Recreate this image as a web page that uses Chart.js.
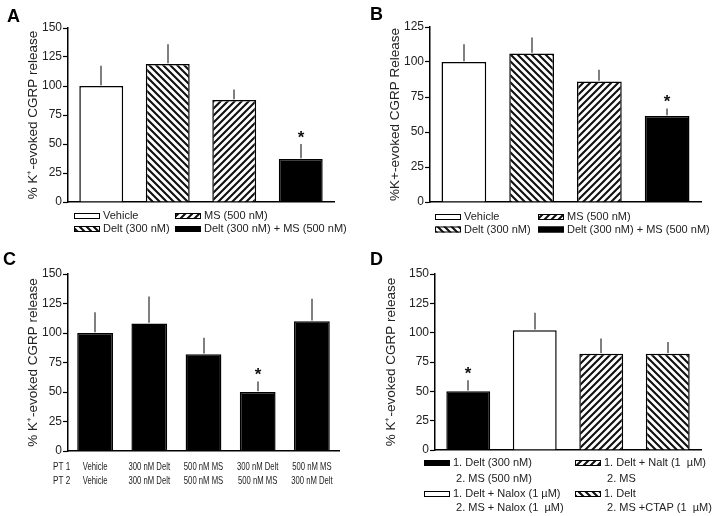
<!DOCTYPE html>
<html><head><meta charset="utf-8">
<script src="https://cdn.jsdelivr.net/npm/chart.js@4/dist/chart.umd.min.js"></script>
<style>
html,body{margin:0;padding:0;background:#fff;}
#wrap{position:relative;width:717px;height:516px;overflow:hidden;background:#fff;}
canvas{position:absolute;}
</style></head><body>
<div id="wrap">
<canvas id="cA" width="358" height="250" style="left:0;top:0"></canvas>
<canvas id="cB" width="359" height="250" style="left:358px;top:0"></canvas>
<canvas id="cC" width="358" height="266" style="left:0;top:250px"></canvas>
<canvas id="cD" width="359" height="266" style="left:358px;top:250px"></canvas>
</div>
<script>
// ---------- DATA ----------
const aCategories = ['Vehicle', 'Delt (300 nM)', 'MS (500 nM)', 'Delt (300 nM) + MS (500 nM)'];
const aValues = [100, 119, 88, 37];
const aErrors = [17.5, 17, 9, 13];
const aSignificant = [false, false, false, true];
const aTicks = [0, 25, 50, 75, 100, 125, 150];

const bCategories = ['Vehicle', 'Delt (300 nM)', 'MS (500 nM)', 'Delt (300 nM) + MS (500 nM)'];
const bValues = [100, 106, 86, 61.5];
const bErrors = [12.7, 11.5, 8.5, 5.3];
const bSignificant = [false, false, false, true];
const bTicks = [0, 25, 50, 75, 100, 125];

const cRowTitles = ['PT 1', 'PT 2'];
const cPt1Labels = ['Vehicle', '300 nM Delt', '500 nM MS', '300 nM Delt', '500 nM MS'];
const cPt2Labels = ['Vehicle', '300 nM Delt', '500 nM MS', '500 nM MS', '300 nM Delt'];
const cValues = [100, 108, 82, 50, 110];
const cErrors = [17.5, 23, 14, 9, 19];
const cSignificant = [false, false, false, true, false];
const cTicks = [0, 25, 50, 75, 100, 125, 150];

const dCategories = [
  ['1. Delt (300 nM)', ' 2. MS (500 nM)'],
  ['1. Delt + Nalox (1 \u00b5M)', ' 2. MS + Nalox (1  \u00b5M)'],
  ['1. Delt + Nalt (1  \u00b5M)', ' 2. MS'],
  ['1. Delt', ' 2. MS +CTAP (1  \u00b5M)']
];
const dValues = [50, 102, 82, 82];
const dErrors = [9.5, 15, 13, 10];
const dSignificant = [true, false, false, false];
const dTicks = [0, 25, 50, 75, 100, 125, 150];

// ---------- STYLE ----------
const FONT = "'Liberation Sans', Arial, sans-serif";
Chart.defaults.font.family = FONT;
Chart.defaults.color = '#222';

function hatch(dir) {
  const s = 7, c = document.createElement('canvas');
  c.width = s; c.height = s;
  const g = c.getContext('2d');
  g.fillStyle = '#fff'; g.fillRect(0, 0, s, s);
  g.strokeStyle = '#111'; g.lineWidth = 2.1; g.beginPath();
  if (dir === 'back') {
    g.moveTo(-1, -1); g.lineTo(s + 1, s + 1);
    g.moveTo(-1, s - 1); g.lineTo(1, s + 1);
    g.moveTo(s - 1, -1); g.lineTo(s + 1, 1);
  } else {
    g.moveTo(-1, s + 1); g.lineTo(s + 1, -1);
    g.moveTo(-1, 1); g.lineTo(1, -1);
    g.moveTo(s - 1, s + 1); g.lineTo(s + 1, s - 1);
  }
  g.stroke();
  return g.createPattern(c, 'repeat');
}
const FILLS = { white: '#ffffff', black: '#000000', back: hatch('back'), fwd: hatch('fwd') };

function condensedText(ctx, text, x, y, align, sx) {
  ctx.save();
  ctx.translate(x, y);
  ctx.scale(sx, 1);
  ctx.textAlign = align;
  ctx.fillText(text, 0, 0);
  ctx.restore();
}

function makePanel(cfg) {
  const W = cfg.canvas.width, H = cfg.canvas.height, A = cfg.area;
  const extras = {
    id: 'extras',
    afterDatasetsDraw(chart) {
      const ctx = chart.ctx, meta = chart.getDatasetMeta(0), ys = chart.scales.y;
      ctx.save();
      meta.data.forEach((bar, i) => {
        const x = Math.round(bar.x);
        const top = ys.getPixelForValue(cfg.values[i]);
        const et = ys.getPixelForValue(cfg.values[i] + cfg.errors[i]);
        ctx.strokeStyle = '#555'; ctx.lineWidth = 1.5;
        ctx.beginPath(); ctx.moveTo(x, top - 0.75); ctx.lineTo(x, et); ctx.stroke();
        if (cfg.sig[i]) {
          ctx.fillStyle = '#111'; ctx.font = 'bold 17px ' + FONT;
          ctx.textAlign = 'center'; ctx.textBaseline = 'alphabetic';
          ctx.fillText('*', x, et - 1);
        }
      });
      ctx.restore();
    },
    afterDraw(chart) {
      const ctx = chart.ctx;
      ctx.save();
      ctx.fillStyle = '#000'; ctx.font = 'bold 18px ' + FONT;
      ctx.textAlign = 'left'; ctx.textBaseline = 'alphabetic';
      ctx.fillText(cfg.letter, cfg.letterPos[0], cfg.letterPos[1]);
      if (cfg.legend) {
        const L = cfg.legend;
        ctx.font = '11px ' + FONT; ctx.textBaseline = 'middle';
        L.items.forEach(it => {
          const sx = L.swatchX[it.col], ty = L.rowsY[it.row];
          ctx.fillStyle = FILLS[cfg.fills[it.cat]];
          ctx.fillRect(sx, ty - 3, 26, 6);
          ctx.strokeStyle = '#000'; ctx.lineWidth = 1;
          ctx.strokeRect(sx + 0.5, ty - 2.5, 25, 5);
          const lines = Array.isArray(cfg.labels[it.cat]) ? cfg.labels[it.cat] : [cfg.labels[it.cat]];
          ctx.fillStyle = '#222';
          lines.forEach((t, k) => ctx.fillText(t, L.textX[it.col], L.rowsY[it.row + k]));
        });
      }
      if (cfg.rows) {
        const xs = chart.scales.x, b = chart.chartArea.bottom;
        ctx.font = '11px ' + FONT; ctx.fillStyle = '#222'; ctx.textBaseline = 'middle';
        cfg.rows.forEach((r, k) => {
          const y = b + cfg.rowY[k];
          condensedText(ctx, r.title, cfg.rowTitleX, y, 'left', 0.74);
          r.labels.forEach((t, i) => condensedText(ctx, t, xs.getPixelForValue(i), y, 'center', 0.7));
        });
      }
      ctx.restore();
    }
  };
  return new Chart(cfg.canvas, {
    type: 'bar',
    data: {
      labels: cfg.xLabels,
      datasets: [{
        data: cfg.values,
        backgroundColor: cfg.fills.map(f => FILLS[f]),
        borderColor: '#000',
        borderWidth: 1.5,
        borderSkipped: 'bottom',
        barPercentage: 0.66,
        categoryPercentage: 1.0
      }]
    },
    options: {
      responsive: false,
      animation: false,
      events: [],
      layout: { padding: { left: 0, top: A.t, right: W - A.r, bottom: H - A.b } },
      plugins: { legend: { display: false }, tooltip: { enabled: false } },
      scales: {
        x: {
          grid: { display: false },
          border: { display: true, color: '#000', width: 1.5 },
          ticks: { display: false },
          afterFit(s) { s.height = 0; s.paddingLeft = 0; s.paddingRight = 0; s.paddingTop = 0; s.paddingBottom = 0; }
        },
        y: {
          min: 0, max: cfg.ticks[cfg.ticks.length - 1],
          afterBuildTicks(s) { s.ticks = cfg.ticks.map(v => ({ value: v })); },
          grid: { display: true, drawOnChartArea: false, drawTicks: true, tickLength: 5, color: '#000', tickWidth: 1.2 },
          border: { display: true, color: '#000', width: 1.5 },
          ticks: { padding: 1, color: '#222', font: { size: 12 } },
          title: { display: true, text: cfg.yTitle, color: '#222', font: { size: 13.5 }, padding: { top: cfg.titleX - 8.1, bottom: 0 } },
          afterFit(s) { s.width = A.l; s.paddingLeft = 0; s.paddingRight = 0; s.paddingTop = 0; s.paddingBottom = 0; }
        }
      }
    },
    plugins: [extras]
  });
}

makePanel({
  canvas: document.getElementById('cA'), area: { l: 68, r: 334, t: 28, b: 202 },
  xLabels: aCategories, labels: aCategories, values: aValues, errors: aErrors, sig: aSignificant, ticks: aTicks,
  fills: ['white', 'back', 'fwd', 'black'], yTitle: '% K\u207a-evoked CGRP release', titleX: 33,
  letter: 'A', letterPos: [7, 22],
  legend: { swatchX: [74, 175], textX: [103, 204], rowsY: [216, 229],
    items: [{ cat: 0, col: 0, row: 0 }, { cat: 2, col: 1, row: 0 }, { cat: 1, col: 0, row: 1 }, { cat: 3, col: 1, row: 1 }] }
});
makePanel({
  canvas: document.getElementById('cB'), area: { l: 72, r: 343, t: 27, b: 202 },
  xLabels: bCategories, labels: bCategories, values: bValues, errors: bErrors, sig: bSignificant, ticks: bTicks,
  fills: ['white', 'back', 'fwd', 'black'], yTitle: '%K+-evoked CGRP Release', titleX: 37,
  letter: 'B', letterPos: [12, 20],
  legend: { swatchX: [77, 180], textX: [106, 209], rowsY: [217, 229.5],
    items: [{ cat: 0, col: 0, row: 0 }, { cat: 2, col: 1, row: 0 }, { cat: 1, col: 0, row: 1 }, { cat: 3, col: 1, row: 1 }] }
});
makePanel({
  canvas: document.getElementById('cC'), area: { l: 68, r: 339, t: 24, b: 201 },
  xLabels: cPt1Labels.map((t, i) => t + ' / ' + cPt2Labels[i]), labels: cPt1Labels, values: cValues, errors: cErrors, sig: cSignificant, ticks: cTicks,
  fills: ['black', 'black', 'black', 'black', 'black'], yTitle: '% K\u207a-evoked CGRP release', titleX: 33,
  letter: 'C', letterPos: [3, 15],
  rows: [{ title: cRowTitles[0], labels: cPt1Labels }, { title: cRowTitles[1], labels: cPt2Labels }],
  rowTitleX: 53, rowY: [16, 30]
});
makePanel({
  canvas: document.getElementById('cD'), area: { l: 77, r: 343, t: 24, b: 200 },
  xLabels: dCategories.map(c => c[0]), labels: dCategories, values: dValues, errors: dErrors, sig: dSignificant, ticks: dTicks,
  fills: ['black', 'white', 'fwd', 'back'], yTitle: '% K\u207a-evoked CGRP release', titleX: 33,
  letter: 'D', letterPos: [12, 15],
  legend: { swatchX: [66, 217], textX: [95, 246], rowsY: [213, 228.5, 244, 258],
    items: [{ cat: 0, col: 0, row: 0 }, { cat: 1, col: 0, row: 2 }, { cat: 2, col: 1, row: 0 }, { cat: 3, col: 1, row: 2 }] }
});
</script>
</body></html>
